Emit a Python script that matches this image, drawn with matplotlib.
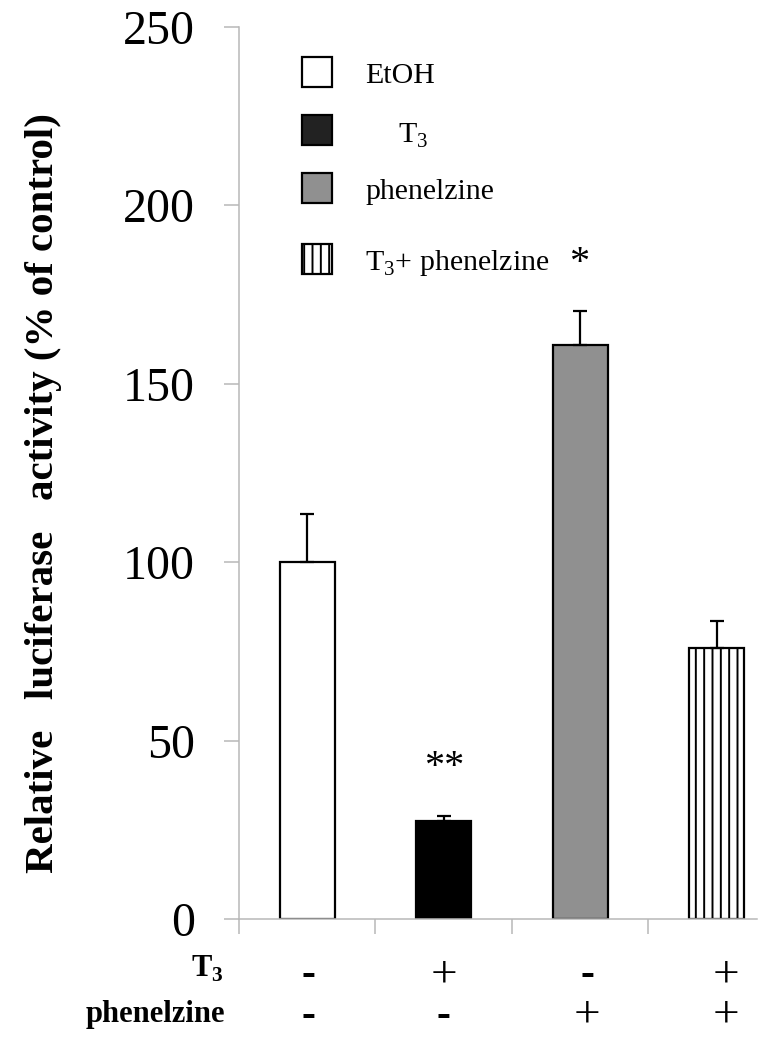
import matplotlib
matplotlib.use("Agg")
import matplotlib.pyplot as plt
from matplotlib.patches import Rectangle
from matplotlib.transforms import blended_transform_factory, ScaledTranslation

plt.rcParams['font.family'] = ['Liberation Serif', 'DejaVu Serif']
plt.rcParams['mathtext.fontset'] = 'custom'
plt.rcParams['mathtext.rm'] = 'Liberation Serif'
plt.rcParams['mathtext.bf'] = 'Liberation Serif:bold'
plt.rcParams['hatch.linewidth'] = 1.4

# ---- data ----
groups = ['EtOH', 'T$_\\mathrm{3}$', 'phenelzine', 'T$_\\mathrm{3}$+ phenelzine']
values = [100, 27.5, 161, 76]
errors = [13.5, 1.5, 9.5, 7.5]
colors = ['white', 'black', '#909090', 'white']
hatches = ['', '', '', '||']
t3_signs = ['-', '+', '-', '+']
phen_signs = ['-', '-', '+', '+']
sig_marks = ['', '**', '', '']
yticks = [0, 50, 100, 150, 200, 250]

W, H = 769, 1050
fig = plt.figure(figsize=(W / 100, H / 100), dpi=100)
ax = fig.add_axes([239 / W, 1 - 919 / H, (757 - 239) / W, (919 - 27) / H])

x = list(range(len(values)))
ax.bar(x, values, width=0.40, color=colors, edgecolor='black',
       linewidth=1.6, hatch=hatches, zorder=2)
ax.errorbar(x, values, yerr=[[0] * len(errors), errors], fmt='none',
            ecolor='black', elinewidth=1.6, capsize=4.9, capthick=1.6, zorder=3)

ax.set_xlim(-0.5, 3.295)
ax.set_ylim(0, 250)
ax.set_yticks(yticks)
ax.set_yticklabels([str(t) for t in yticks], fontsize=34.5)
ax.set_xticks([i - 0.5 for i in x])
ax.set_xticklabels([])
gray = '#b8b8b8'
for s in ['top', 'right']:
    ax.spines[s].set_visible(False)
for s in ['left', 'bottom']:
    ax.spines[s].set_color(gray)
    ax.spines[s].set_linewidth(1.1)
ax.tick_params(axis='y', direction='out', length=10.8, width=1.1, color=gray, pad=21)
ax.tick_params(axis='x', direction='out', length=10.8, width=1.1, color=gray)

# significance marks above error bars
for i, m in enumerate(sig_marks):
    if m:
        ax.text(i, values[i] + errors[i], m, ha='center', va='baseline',
                fontsize=29,
                transform=ax.transData + ScaledTranslation(0, 39 / 100, fig.dpi_scale_trans))

# y label
fig.text(44 / W, 1 - 493 / H, 'Relative   luciferase   activity (% of control)',
         rotation=90, ha='center', va='center', fontsize=29.5, fontweight='bold')

# legend drawn manually
sq_y = [72, 130, 188, 259]
txt_base = [83, 143, 199, 270]
txt_x = [365, 398, 365, 365]
for i in range(4):
    fig.add_artist(Rectangle((302 / W, 1 - (sq_y[i] + 15) / H), 30 / W, 30 / H,
                             transform=fig.transFigure,
                             facecolor=(colors[i] if i != 1 else '#222222'),
                             edgecolor='black', linewidth=1.6,
                             hatch=hatches[i]))
    fig.text(txt_x[i] / W, 1 - txt_base[i] / H, groups[i], ha='left',
             va='baseline', fontsize=21.5)
fig.text(579 / W, 1 - 273 / H, '*', ha='center', va='baseline', fontsize=29)

# treatment table below axis
tr = blended_transform_factory(ax.transData, fig.transFigure)
fig.text(224 / W, 1 - 977 / H, 'T$_\\mathbf{3}$', ha='right', va='baseline',
         fontsize=22, fontweight='bold')
fig.text(225 / W, 1 - 1022 / H, 'phenelzine', ha='right', va='baseline',
         fontsize=22, fontweight='bold')
shift = [0.01, 0.0, 0.05, 0.066]
for row, (signs, base) in enumerate([(t3_signs, 986), (phen_signs, 1027)]):
    for i, s in enumerate(signs):
        if s == '+':
            ax.text(i + shift[i], 1 - base / H, '+', ha='center', va='baseline',
                    fontsize=34, transform=tr)
        else:
            ax.text(i + shift[i], 1 - (base - 1) / H, '-', ha='center', va='baseline',
                    fontsize=30, fontweight='bold', transform=tr)

fig.savefig('out.png', dpi=100)
